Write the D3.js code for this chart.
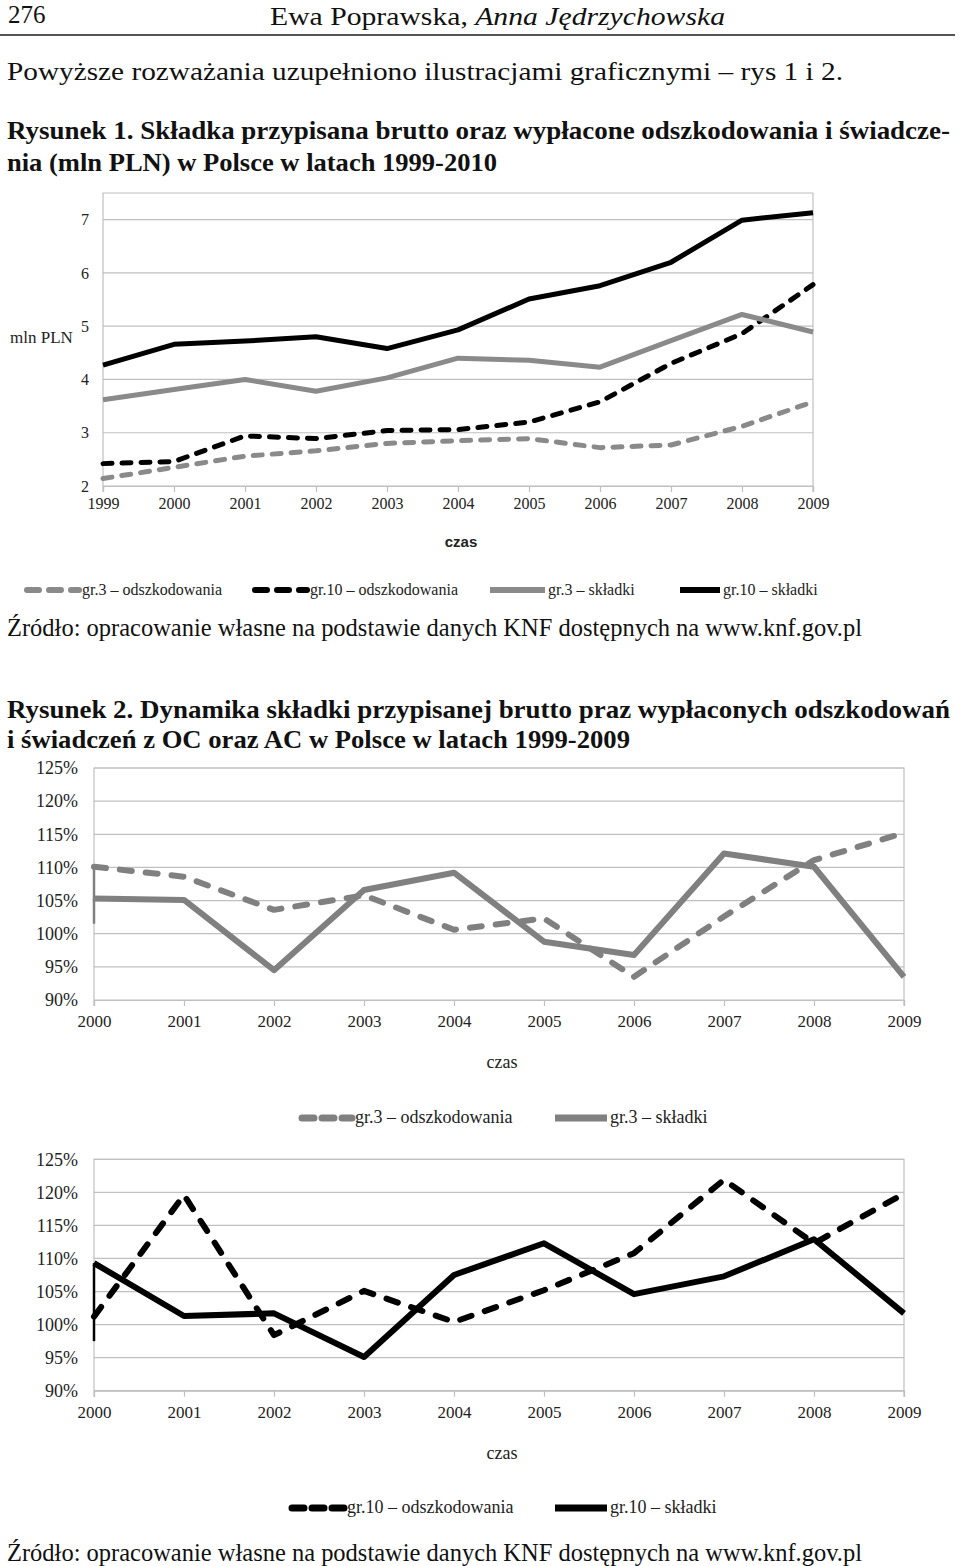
<!DOCTYPE html>
<html>
<head>
<meta charset="utf-8">
<script src="https://cdn.jsdelivr.net/npm/d3@7"></script>
<style>
  body { margin: 0; background: #fff; }
  svg { display: block; }
</style>
</head>
<body>
<div id="page"></div>
<script>
// ---- data, Rysunek 1 (mln PLN) ----
var years1 = [1999, 2000, 2001, 2002, 2003, 2004, 2005, 2006, 2007, 2008, 2009];
var gr3Odszk = [2.14, 2.35, 2.56, 2.66, 2.80, 2.85, 2.89, 2.72, 2.77, 3.12, 3.58];
var gr10Odszk = [2.42, 2.46, 2.94, 2.89, 3.04, 3.06, 3.20, 3.58, 4.30, 4.86, 5.78];
var gr3Skladki = [3.62, 3.81, 4.00, 3.78, 4.03, 4.40, 4.36, 4.23, 4.73, 5.22, 4.89];
var gr10Skladki = [4.27, 4.66, 4.72, 4.80, 4.58, 4.93, 5.51, 5.76, 6.20, 6.99, 7.13];
var ticks1 = [2, 3, 4, 5, 6, 7];

// ---- data, Rysunek 2 (dynamika, %) ----
var years2 = [2000, 2001, 2002, 2003, 2004, 2005, 2006, 2007, 2008, 2009];
var gr3OdszkDyn = [110.1, 108.6, 103.6, 105.8, 100.6, 102.3, 93.5, 102.6, 111.1, 115.2];
var gr3SkladkiDyn = [105.3, 105.1, 94.5, 106.6, 109.2, 98.8, 96.8, 112.1, 110.1, 93.5];
var gr10OdszkDyn = [101.2, 119.6, 98.4, 105.1, 100.4, 105.2, 110.8, 121.9, 112.3, 119.8];
var gr10SkladkiDyn = [109.3, 101.3, 101.7, 95.1, 107.5, 112.3, 104.6, 107.3, 112.9, 101.7];
// short leading stubs that excel drew at 2000
var gr3OdszkStart = 105.0, gr3SkladkiStart = 101.5, gr10SkladkiStart = 97.5;
var ticks2 = [90, 95, 100, 105, 110, 115, 120, 125];

var serif = "'Liberation Serif', 'Times New Roman', serif";
var sans = "'Liberation Sans', Arial, sans-serif";
var grey = "#8a8a8a", grid = "#c0c0c0";

var svg = d3.select("#page").append("svg")
    .attr("width", 960)
    .attr("height", 1566);

// ---- page text ----
function line(txt, x, y, size, opts) {
    opts = opts || {};
    var t = svg.append("text")
        .attr("x", x).attr("y", y)
        .attr("font-family", opts.family || serif)
        .attr("font-size", size)
        .attr("font-weight", opts.bold ? "bold" : "normal")
        .attr("fill", "#111")
        .text(txt);
    if (opts.len) t.attr("textLength", opts.len).attr("lengthAdjust", "spacingAndGlyphs");
    return t;
}

line("276", 8, 23, 25);
var hdr = svg.append("text").attr("x", 270).attr("y", 25)
    .attr("font-family", serif).attr("font-size", 26).attr("fill", "#111")
    .attr("textLength", 455).attr("lengthAdjust", "spacingAndGlyphs");
hdr.append("tspan").text("Ewa Poprawska, ");
hdr.append("tspan").attr("font-style", "italic").text("Anna Jędrzychowska");
svg.append("line").attr("x1", 0).attr("x2", 955).attr("y1", 35).attr("y2", 35)
    .attr("stroke", "#555").attr("stroke-width", 2);

line("Powyższe rozważania uzupełniono ilustracjami graficznymi – rys 1 i 2.", 7, 80, 26, {len: 836});
line("Rysunek 1. Składka przypisana brutto oraz wypłacone odszkodowania i świadcze-", 7, 139, 25, {bold: true, len: 943});
line("nia (mln PLN) w Polsce w latach 1999-2010", 7, 171, 25, {bold: true, len: 490});
line("Źródło: opracowanie własne na podstawie danych KNF dostępnych na www.knf.gov.pl", 7, 636, 25, {len: 855});
line("Rysunek 2. Dynamika składki przypisanej brutto praz wypłaconych odszkodowań", 7, 718, 25, {bold: true, len: 943});
line("i świadczeń z OC oraz AC w Polsce w latach 1999-2009", 7, 748, 25, {bold: true, len: 623});
line("Źródło: opracowanie własne na podstawie danych KNF dostępnych na www.knf.gov.pl", 7, 1561, 25, {len: 855});

// ---- generic chart drawing ----
function drawChart(cfg) {
    var x = d3.scaleLinear().domain(cfg.xDomain).range(cfg.xRange);
    var y = d3.scaleLinear().domain(cfg.yDomain).range(cfg.yRange);
    var g = svg.append("g");

    // grid lines
    g.selectAll(".grid").data(cfg.yTicks).enter().append("line")
        .attr("x1", cfg.xRange[0]).attr("x2", cfg.xRange[1])
        .attr("y1", function(d) { return y(d); })
        .attr("y2", function(d) { return y(d); })
        .attr("stroke", grid).attr("stroke-width", 1.2);

    // frame: top, right and left
    var top = cfg.yRange[1], bot = cfg.yRange[0];
    g.append("path")
        .attr("d", "M" + cfg.xRange[0] + "," + (bot + 6) + "V" + top + "H" + cfg.xRange[1] + "V" + (bot + 6))
        .attr("fill", "none").attr("stroke", grid).attr("stroke-width", 1.2);

    // x axis
    var xAxis = g.append("g").attr("transform", "translate(0," + bot + ")")
        .call(d3.axisBottom(x).tickValues(cfg.xTicks).tickFormat(d3.format("d")).tickSize(6).tickPadding(cfg.xPad));
    xAxis.select(".domain").attr("stroke", grid).attr("stroke-width", 1.2);
    xAxis.selectAll(".tick line").attr("stroke", grid).attr("stroke-width", 1.2);
    xAxis.selectAll("text").attr("font-family", serif).attr("font-size", cfg.tickSize).attr("fill", "#222");

    // y labels
    var yAxis = g.append("g").attr("transform", "translate(" + cfg.xRange[0] + ",0)")
        .call(d3.axisLeft(y).tickValues(cfg.yTicks).tickFormat(cfg.yFormat).tickSize(0).tickPadding(cfg.yPad));
    yAxis.select(".domain").remove();
    yAxis.selectAll("text").attr("font-family", serif).attr("font-size", cfg.yTickSize || cfg.tickSize).attr("fill", "#222");

    // series
    var ln = d3.line().x(function(d) { return x(d[0]); }).y(function(d) { return y(d[1]); });
    cfg.series.forEach(function(s) {
        var pts = s.values.map(function(v, i) { return [cfg.years[i], v]; });
        if (s.start != null) {
            g.append("path").datum([[cfg.years[0], s.start], pts[0]])
                .attr("d", ln).attr("fill", "none")
                .attr("stroke", s.color).attr("stroke-width", 2.5);
        }
        g.append("path").datum(pts)
            .attr("d", ln)
            .attr("fill", "none")
            .attr("stroke", s.color)
            .attr("stroke-width", s.width)
            .attr("stroke-linejoin", "round")
            .attr("stroke-linecap", s.dash ? "round" : "butt")
            .attr("stroke-dasharray", s.dash || null);
    });

    // axis title
    g.append("text").attr("x", cfg.titleX).attr("y", cfg.titleY)
        .attr("text-anchor", "middle")
        .attr("font-family", cfg.titleFont).attr("font-size", cfg.titleSize)
        .attr("font-weight", cfg.titleBold ? "bold" : "normal")
        .attr("fill", "#222").text("czas");

    // legend
    cfg.legend.forEach(function(l) {
        var s = cfg.series[l.i];
        g.append("line")
            .attr("x1", l.x).attr("x2", l.x + l.w)
            .attr("y1", cfg.legendY).attr("y2", cfg.legendY)
            .attr("stroke", s.color).attr("stroke-width", s.width + 1)
            .attr("stroke-linecap", s.dash ? "round" : "butt")
            .attr("stroke-dasharray", s.dash ? cfg.legendDash : null);
        g.append("text")
            .attr("x", l.x + l.w + 3).attr("y", cfg.legendY + 5)
            .attr("font-family", serif).attr("font-size", cfg.legendSize)
            .attr("fill", "#222").text(s.name);
    });
    return g;
}

// Rysunek 1
var c1 = drawChart({
    years: years1,
    xDomain: [1999, 2009], xRange: [103, 813],
    yDomain: [2, 7.5], yRange: [486, 193],
    xTicks: years1, yTicks: ticks1, yFormat: d3.format("d"),
    xPad: 6, yPad: 14, tickSize: 16,
    series: [
        {name: "gr.3 – odszkodowania", values: gr3Odszk, color: grey, width: 5, dash: "9,10"},
        {name: "gr.10  – odszkodowania", values: gr10Odszk, color: "#000", width: 5, dash: "9,10"},
        {name: "gr.3 – składki", values: gr3Skladki, color: grey, width: 5},
        {name: "gr.10 – składki", values: gr10Skladki, color: "#000", width: 5}
    ],
    titleX: 461, titleY: 547, titleFont: sans, titleSize: 15, titleBold: true,
    legendY: 590, legendSize: 16, legendDash: "12,10",
    legend: [{i: 0, x: 27, w: 52}, {i: 1, x: 255, w: 52}, {i: 2, x: 490, w: 55}, {i: 3, x: 680, w: 40}]
});
c1.append("text").attr("x", 10).attr("y", 343)
    .attr("font-family", serif).attr("font-size", 17).attr("fill", "#222").text("mln PLN");

var pct = function(d) { return d + "%"; };

// Rysunek 2, gr.3
drawChart({
    years: years2,
    xDomain: [2000, 2009], xRange: [94, 904],
    yDomain: [90, 125], yRange: [1000, 768],
    xTicks: years2, yTicks: ticks2, yFormat: pct,
    xPad: 9, yPad: 16, tickSize: 17, yTickSize: 18,
    series: [
        {name: "gr.3 – odszkodowania", values: gr3OdszkDyn, start: gr3OdszkStart, color: "#808080", width: 6, dash: "12,14"},
        {name: "gr.3 – składki", values: gr3SkladkiDyn, start: gr3SkladkiStart, color: "#808080", width: 6}
    ],
    titleX: 502, titleY: 1068, titleFont: serif, titleSize: 18, titleBold: false,
    legendY: 1118, legendSize: 18, legendDash: "12,8",
    legend: [{i: 0, x: 302, w: 50}, {i: 1, x: 555, w: 52}]
});

// Rysunek 2, gr.10
drawChart({
    years: years2,
    xDomain: [2000, 2009], xRange: [94, 904],
    yDomain: [90, 125], yRange: [1390.7, 1159.3],
    xTicks: years2, yTicks: ticks2, yFormat: pct,
    xPad: 9, yPad: 16, tickSize: 17, yTickSize: 18,
    series: [
        {name: "gr.10  – odszkodowania", values: gr10OdszkDyn, color: "#000", width: 6, dash: "12,14"},
        {name: "gr.10 – składki", values: gr10SkladkiDyn, start: gr10SkladkiStart, color: "#000", width: 6}
    ],
    titleX: 502, titleY: 1459, titleFont: serif, titleSize: 18, titleBold: false,
    legendY: 1508, legendSize: 18, legendDash: "12,8",
    legend: [{i: 0, x: 292, w: 52}, {i: 1, x: 555, w: 52}]
});
</script>
</body>
</html>
